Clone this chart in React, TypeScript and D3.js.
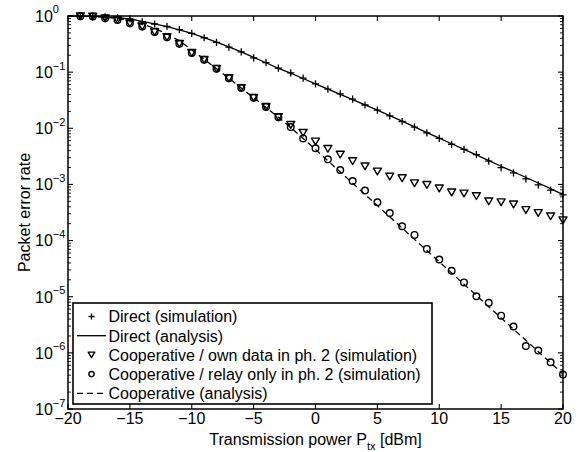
import React from "react";
import * as d3 from "d3";

// ---- data ----
const xSim = [-19,-18,-17,-16,-15,-14,-13,-12,-11,-10,-9,-8,-7,-6,-5,-4,-3,-2,-1,0,1,2,3,4,5,6,7,8,9,10,11,12,13,14,15,16,17,18,19,20];
const xLine = [-20,-19,-18,-17,-16,-15,-14,-13,-12,-11,-10,-9,-8,-7,-6,-5,-4,-3,-2,-1,0,1,2,3,4,5,6,7,8,9,10,11,12,13,14,15,16,17,18,19,20];

const directSim = [0.99,0.985,0.965,0.94,0.89,0.79,0.72,0.65,0.57,0.49,0.41,0.34,0.28,0.23,0.18,0.148,0.118,0.097,0.078,0.062,0.050,0.041,0.033,0.026,0.021,0.0166,0.0132,0.0105,0.0083,0.0066,0.0052,0.0042,0.0034,0.0026,0.0020,0.0016,0.00126,0.00098,0.00079,0.00065];
const directAnalysis = [0.995,0.99,0.982,0.962,0.935,0.885,0.8,0.725,0.648,0.568,0.488,0.41,0.342,0.282,0.23,0.183,0.147,0.117,0.096,0.077,0.062,0.0498,0.0402,0.0325,0.0262,0.0211,0.0168,0.0134,0.0106,0.0084,0.0067,0.0053,0.0042,0.00336,0.00266,0.00211,0.00168,0.00133,0.00106,0.00084,0.00066];
const coopOwnSim = [0.99,0.98,0.91,0.85,0.74,0.65,0.52,0.42,0.32,0.22,0.166,0.115,0.078,0.052,0.035,0.024,0.0158,0.0115,0.0083,0.0058,0.0043,0.0034,0.0026,0.0021,0.0017,0.00138,0.00129,0.00105,0.00098,0.00085,0.00072,0.00069,0.00062,0.0005,0.00048,0.00044,0.00035,0.00031,0.00027,0.00023];
const coopRelaySim = [0.99,0.98,0.91,0.85,0.74,0.65,0.52,0.42,0.32,0.22,0.166,0.115,0.078,0.052,0.035,0.024,0.0158,0.0105,0.0066,0.0044,0.0028,0.0018,0.00115,0.00078,0.00048,0.00031,0.00018,0.000126,0.000071,0.000046,0.000029,0.000018,0.0000102,0.0000078,0.0000046,0.00000295,0.00000132,0.0000011,0.00000068,0.00000041];
const coopAnalysis = [1.0,0.995,0.98,0.95,0.9,0.82,0.72,0.6,0.48,0.36,0.25,0.17,0.115,0.078,0.052,0.035,0.0235,0.0157,0.0103,0.0066,0.0042,0.00265,0.00167,0.00105,0.000665,0.00042,0.000265,0.000167,0.000105,0.0000665,0.000042,0.0000265,0.0000167,0.0000105,0.00000665,0.0000042,0.00000265,0.00000167,0.00000105,0.000000665,0.00000042];

const xTicks = [-20,-15,-10,-5,0,5,10,15,20];
const yExponents = [0,-1,-2,-3,-4,-5,-6,-7];
const legendLabels = [
  "Direct (simulation)",
  "Direct (analysis)",
  "Cooperative / own data in ph. 2 (simulation)",
  "Cooperative / relay only in ph. 2 (simulation)",
  "Cooperative (analysis)",
];

// ---- layout ----
const W = 588, H = 452;
const L = 68, R = 563, T = 16, B = 409;
const FONT = "'Liberation Sans', Arial, Helvetica, sans-serif";

const x = d3.scaleLinear().domain([-20, 20]).range([L, R]);
const y = d3.scaleLog().domain([1e-7, 1]).range([B, T]);

const minus = (v: number) => (v < 0 ? "\u2212" + Math.abs(v) : String(v));

function Plus({ cx, cy, s }: { cx: number; cy: number; s: number }) {
  return <path d={`M${cx - s},${cy}H${cx + s}M${cx},${cy - s}V${cy + s}`} stroke="#000" strokeWidth={1.3} fill="none" />;
}
function Tri({ cx, cy, s }: { cx: number; cy: number; s: number }) {
  return <path d={`M${cx - s},${cy - s * 0.85}L${cx + s},${cy - s * 0.85}L${cx},${cy + s * 0.85}Z`} stroke="#000" strokeWidth={1.4} fill="none" strokeLinejoin="round" />;
}
function Circ({ cx, cy, r }: { cx: number; cy: number; r: number }) {
  return <circle cx={cx} cy={cy} r={r} stroke="#000" strokeWidth={1.4} fill="none" />;
}

export default function App() {
  const line = d3.line<[number, number]>().x((d) => x(d[0])).y((d) => y(d[1]));
  const dLine = line(xLine.map((v, i) => [v, directAnalysis[i]] as [number, number])) || "";
  const cLine = line(xLine.map((v, i) => [v, coopAnalysis[i]] as [number, number])) || "";

  const minor: number[] = [];
  for (let e = -7; e < 0; e++) for (let m = 2; m <= 9; m++) minor.push(m * Math.pow(10, e));

  const lgX = 73, lgY = 303, lgW = 359, lgH = 101;
  const lgRow0 = 316.5, lgStep = 19.2;
  const lgSx0 = 77, lgSx1 = 106, lgMx = 91.5, lgTx = 108.5;

  return (
    <svg width={W} height={H} style={{ position: "absolute", left: 0, top: 0, background: "#fff" }} fontFamily={FONT}>
      <rect x={0} y={0} width={W} height={H} fill="#fff" />
      <defs>
        <clipPath id="plotclip">
          <rect x={L} y={T - 6} width={R - L + 6} height={B - T + 12} />
        </clipPath>
      </defs>

      {/* ticks */}
      {xTicks.map((t) => (
        <g key={"xt" + t}>
          <line x1={x(t)} x2={x(t)} y1={B} y2={B - 5} stroke="#000" strokeWidth={1.1} />
          <line x1={x(t)} x2={x(t)} y1={T} y2={T + 5} stroke="#000" strokeWidth={1.1} />
          <text x={x(t)} y={424} textAnchor="middle" fontSize={16}>{minus(t)}</text>
        </g>
      ))}
      {yExponents.map((e) => (
        <g key={"yt" + e}>
          <line x1={L} x2={L + 5} y1={y(Math.pow(10, e))} y2={y(Math.pow(10, e))} stroke="#000" strokeWidth={1.1} />
          <line x1={R} x2={R - 5} y1={y(Math.pow(10, e))} y2={y(Math.pow(10, e))} stroke="#000" strokeWidth={1.1} />
          <text x={35} y={y(Math.pow(10, e)) + 5.8} fontSize={16}>
            10
            <tspan fontSize={11} dy={-8.3}>{minus(e)}</tspan>
          </text>
        </g>
      ))}
      {minor.map((m, i) => (
        <g key={"mn" + i}>
          <line x1={L} x2={L + 3} y1={y(m)} y2={y(m)} stroke="#000" strokeWidth={0.9} />
          <line x1={R} x2={R - 3} y1={y(m)} y2={y(m)} stroke="#000" strokeWidth={0.9} />
        </g>
      ))}

      {/* lines */}
      <g clipPath="url(#plotclip)">
        <path d={dLine} fill="none" stroke="#000" strokeWidth={1.3} />
        <path d={cLine} fill="none" stroke="#000" strokeWidth={1.3} strokeDasharray="6,4" />
        {xSim.map((v, i) => <Plus key={"p" + i} cx={x(v)} cy={y(directSim[i])} s={3.6} />)}
        {xSim.map((v, i) => <Tri key={"t" + i} cx={x(v)} cy={y(coopOwnSim[i])} s={4} />)}
        {xSim.map((v, i) => <Circ key={"c" + i} cx={x(v)} cy={y(coopRelaySim[i])} r={3.3} />)}
      </g>

      {/* axes box */}
      <rect x={L} y={T} width={R - L} height={B - T} fill="none" stroke="#000" strokeWidth={1.5} />

      {/* legend */}
      <rect x={lgX} y={lgY} width={lgW} height={lgH} fill="#fff" stroke="#000" strokeWidth={1.6} />
      <Plus cx={lgMx} cy={lgRow0} s={3} />
      <line x1={lgSx0} x2={lgSx1} y1={lgRow0 + lgStep} y2={lgRow0 + lgStep} stroke="#000" strokeWidth={1.3} />
      <Tri cx={lgMx} cy={lgRow0 + 2 * lgStep} s={3.3} />
      <Circ cx={lgMx} cy={lgRow0 + 3 * lgStep} r={2.6} />
      <line x1={lgSx0} x2={lgSx1} y1={lgRow0 + 4 * lgStep} y2={lgRow0 + 4 * lgStep} stroke="#000" strokeWidth={1.3} strokeDasharray="6,4" />
      {legendLabels.map((s, i) => (
        <text key={"lg" + i} x={lgTx} y={lgRow0 + i * lgStep + 5.8} fontSize={16}>{s}</text>
      ))}

      {/* axis titles */}
      <text x={315.5} y={445} textAnchor="middle" fontSize={16}>
        Transmission power P<tspan fontSize={11} dy={5}>tx</tspan><tspan dy={-5}> [dBm]</tspan>
      </text>
      <text transform={`translate(30,${(T + B) / 2}) rotate(-90)`} textAnchor="middle" fontSize={16}>Packet error rate</text>
    </svg>
  );
}
